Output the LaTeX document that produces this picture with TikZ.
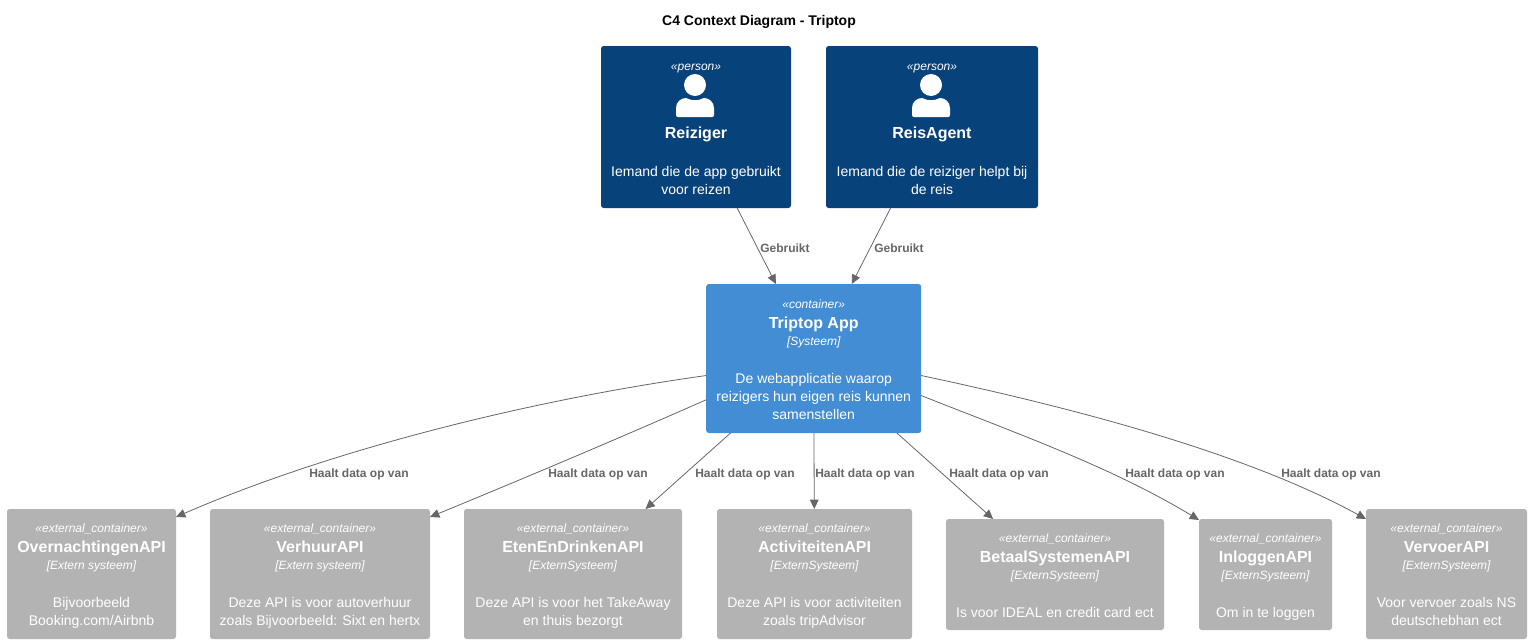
\documentclass[tikz,border=0pt]{standalone}
\usepackage{fontspec}
\setmainfont{Liberation Sans}
\usetikzlibrary{arrows.meta}
\definecolor{PersonBlue}{HTML}{08427B}
\definecolor{AppBlue}{HTML}{438DD5}
\definecolor{ExternGray}{HTML}{B3B3B3}
\definecolor{EdgeGray}{HTML}{666666}
\tikzset{BoxStyle/.style = {
			shape          = rectangle,
			rounded corners= 2pt,
			text           = white,
			align          = center,
			inner sep      = 0pt,
			outer sep      = 0pt,
			font           = \fontsize{10.5}{13.6}\selectfont}
			}
\tikzset{PersonStyle/.style = {BoxStyle, fill = PersonBlue, minimum height = 121.5pt}}
\tikzset{AppStyle/.style    = {BoxStyle, fill = AppBlue, minimum height = 111.75pt}}
\tikzset{ExternStyle/.style = {BoxStyle, fill = ExternGray, minimum height = 97.5pt}}
\tikzset{ExternLowStyle/.style = {ExternStyle, minimum height = 83.25pt}}
\tikzset{EdgeStyle/.style   = {draw = EdgeGray, line width = .6pt, -{Triangle[length=7pt,width=6.5pt]}}}
\tikzset{LabelStyle/.style  = {
			anchor         = west,
			text           = EdgeGray,
			inner sep      = 0pt,
			font           = \fontsize{9}{11}\selectfont\bfseries}
			}
\newcommand{\StereoText}[1]{{\fontsize{9}{11}\selectfont\itshape #1}}
\newcommand{\NameText}[1]{{\fontsize{12}{14}\selectfont\bfseries #1}}
\newcommand{\PersonText}[3]{\rule{0pt}{10pt}\StereoText{«#1»}\\[38pt]\NameText{#2}\\[14.25pt]#3\vphantom{g}}
\newcommand{\SystemText}[4]{\rule{0pt}{10pt}\StereoText{«#1»}\\[1.5pt]\NameText{#2}\\[-.75pt]\StereoText{[#3]}\\[14.6pt]#4\vphantom{g}}
\newcommand{\PersonIcon}[1]{
	\begin{scope}[shift={(#1)}]
		\fill[white] (-1,39) circle (11);
		\fill[white] (-20,69) -- (-20,62) .. controls (-20,56) and (-15,52) .. (-10,52)
			.. controls (-4,55) and (2,55) .. (8,52) .. controls (13,52) and (18,56) .. (18,62)
			-- (18,69) .. controls (18,70.5) and (17,71) .. (16,71) -- (-18,71)
			.. controls (-19,71) and (-20,70.5) .. (-20,69) -- cycle;
	\end{scope}
}

\begin{document}
\begin{tikzpicture}[x=.75pt,y=-.75pt]
	\useasboundingbox (0,0) rectangle (1531,643);

	\node[font=\fontsize{10.5}{13}\selectfont\bfseries] (Title) at (759,22) {C4 Context Diagram - Triptop};

	\node[PersonStyle, minimum width=142.5pt] (Rzg) at (696,127)
		{\PersonText{person}{Reiziger}{Iemand die de app gebruikt\\voor reizen}};
	\node[PersonStyle, minimum width=159pt] (Agt) at (932,127)
		{\PersonText{person}{ReisAgent}{Iemand die de reiziger helpt bij\\de reis}};
	\PersonIcon{Rzg.north}
	\PersonIcon{Agt.north}

	\node[AppStyle, minimum width=161.25pt] (App) at (813.7,358.5)
		{\SystemText{container}{Triptop App}{Systeem}{De webapplicatie waarop\\reizigers hun eigen reis kunnen\\samenstellen}};

	\node[ExternStyle, minimum width=126.75pt] (Ovn) at (91.5,574)
		{\SystemText{external\_container}{OvernachtingenAPI}{Extern systeem}{Bijvoorbeeld\\Booking.com/Airbnb}};
	\node[ExternStyle, minimum width=165pt] (Vhr) at (320,574)
		{\SystemText{external\_container}{VerhuurAPI}{Extern systeem}{Deze API is voor autoverhuur\\zoals Bijvoorbeeld: Sixt en hertx}};
	\node[ExternStyle, minimum width=163.5pt] (Etn) at (573,574)
		{\SystemText{external\_container}{EtenEnDrinkenAPI}{ExternSysteem}{Deze API is voor het TakeAway\\en thuis bezorgt}};
	\node[ExternStyle, minimum width=146.25pt] (Act) at (814.5,574)
		{\SystemText{external\_container}{ActiviteitenAPI}{ExternSysteem}{Deze API is voor activiteiten\\zoals tripAdvisor}};
	\node[ExternLowStyle, minimum width=163.5pt] (Btl) at (1055,574.5)
		{\SystemText{external\_container}{BetaalSystemenAPI}{ExternSysteem}{Is voor IDEAL en credit card ect}};
	\node[ExternLowStyle, minimum width=99.75pt] (Log) at (1265.5,574.5)
		{\SystemText{external\_container}{InloggenAPI}{ExternSysteem}{Om in te loggen}};
	\node[ExternStyle, minimum width=120.75pt] (Vvr) at (1446.5,574)
		{\SystemText{external\_container}{VervoerAPI}{ExternSysteem}{Voor vervoer zoals NS\\deutschebhan ect}};

	\draw[EdgeStyle] (Rzg) -- (App);
	\draw[EdgeStyle] (Agt) -- (App);
	\draw[EdgeStyle] (App.189) .. controls (530,400) and (330,450) .. (Ovn.north east |- 0,517);
	\draw[EdgeStyle] (App.201) .. controls (615,440) and (520,480) .. (Vhr.north east |- 0,517);
	\draw[EdgeStyle] (App) -- (Etn);
	\draw[EdgeStyle] (App) -- (Act);
	\draw[EdgeStyle] (App) -- (Btl);
	\draw[EdgeStyle] (App.-19) .. controls (1010,431) and (1110,466) .. (Log.north west |- 0,520);
	\draw[EdgeStyle] (App.-9) .. controls (1060,405) and (1240,450) .. (Vvr.north west |- 0,519);

	\node[LabelStyle] (LblRzg) at (760,248) {Gebruikt};
	\node[LabelStyle] (LblAgt) at (874,248) {Gebruikt};
	\node[LabelStyle] (LblOvn) at (309,474) {Haalt data op van};
	\node[LabelStyle] (LblVhr) at (548,474) {Haalt data op van};
	\node[LabelStyle] (LblEtn) at (695,474) {Haalt data op van};
	\node[LabelStyle] (LblAct) at (815,474) {Haalt data op van};
	\node[LabelStyle] (LblBtl) at (949,474) {Haalt data op van};
	\node[LabelStyle] (LblLog) at (1125,474) {Haalt data op van};
	\node[LabelStyle] (LblVvr) at (1281,474) {Haalt data op van};
\end{tikzpicture}
\end{document}
